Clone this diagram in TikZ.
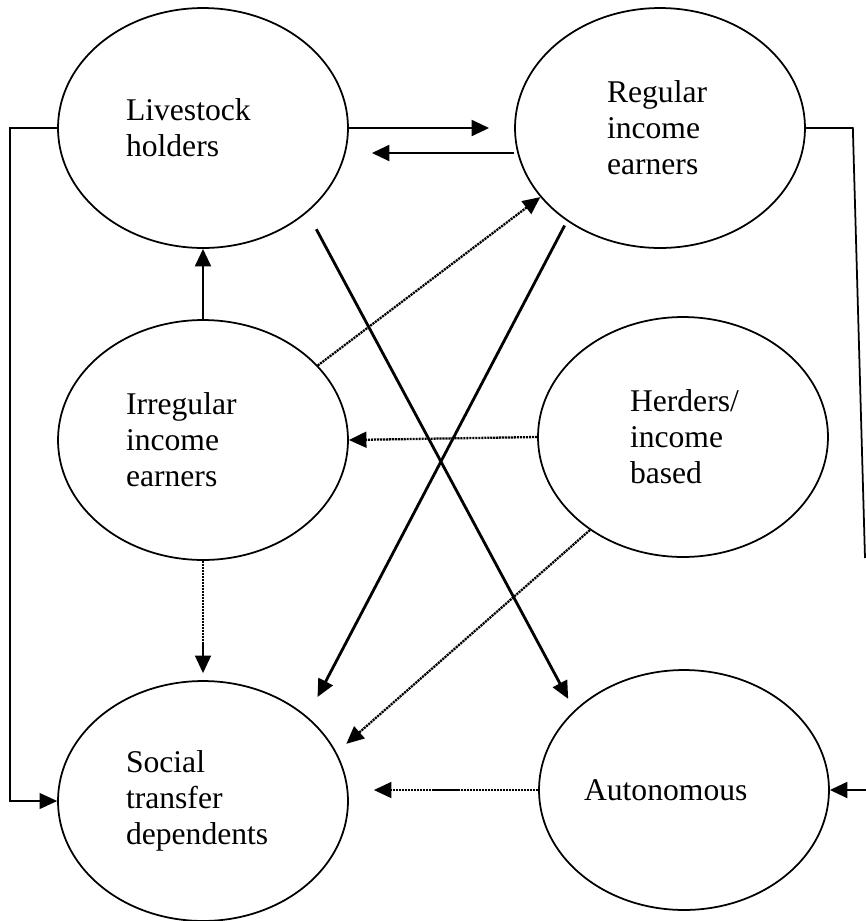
\documentclass[tikz,border=0pt]{standalone}
\usepackage{fontspec}
\setmainfont{Liberation Serif}
\usetikzlibrary{shapes.geometric,arrows.meta}

\begin{document}
\begin{tikzpicture}[x=0.02cm,y=-0.02cm]
	\tikzset{every node/.style={font=\fontsize{18}{20.5}\selectfont},
		grp/.style={ellipse,draw,line width=1pt,minimum width=5.8cm,minimum height=4.8cm,inner sep=0pt,align=left,text width=#1},
		grp/.default=3.08cm,
		link/.style={line width=1.6pt,-{Triangle[length=10pt,width=9pt]}},
		dlink/.style={line width=1.3pt,dash pattern=on 1.2pt off 0.5pt,-{Triangle[length=10pt,width=9pt]}},
		elbow/.style={line width=1pt}}
	\useasboundingbox (0,0) rectangle (866,921);
	\node[grp] (live) at (203,128) {Livestock\\holders};
	\node[grp=2.12cm] (reg) at (660,128) {Regular\\income\\earners};
	\node[grp] (irr) at (203,440) {Irregular\\income\\earners};
	\node[grp=2.12cm] (herd) at (683,437) {Herders/\\income\\based};
	\node[grp] (soc) at (203,801) {Social\\transfer\\dependents};
	\node[grp=4cm] (auto) at (684,790) {Autonomous};
	\coordinate (brk) at (865,558);
	\coordinate (edge) at (866,790);
	\draw[link,shorten >=0.5cm] (live.east) -- (reg.west);
	\draw[link,shorten >=0.46cm] ([yshift=-0.5cm]reg.west) -- ([yshift=-0.5cm]live.east);
	\draw[link] (irr.north) -- (live.south);
	\draw[link,shorten <=0.38cm,shorten >=0.26cm] (live.-39) -- (auto.144);
	\draw[link,shorten <=0.1cm,shorten >=0.44cm] (reg.225) -- (soc.39);
	\draw[dlink] (irr.33) -- (reg.210);
	\draw[dlink] (herd.west) -- (irr.east);
	\draw[dlink,shorten >=0.26cm] (herd.225) -- (soc.20);
	\draw[dlink,shorten >=0.14cm] (irr.south) -- (soc.north);
	\draw[dlink,shorten >=0.5cm] (auto.west) -- (auto.west -| soc.east);
	\draw[elbow,-{Triangle[length=10pt,width=9pt]}] (live.west) -- ++(-47,0) |- (soc.west);
	\draw[elbow] (reg.east) -- ++(47,0) -- (brk);
	\draw[link] (edge) -- (auto.east);
\end{tikzpicture}
\end{document}
